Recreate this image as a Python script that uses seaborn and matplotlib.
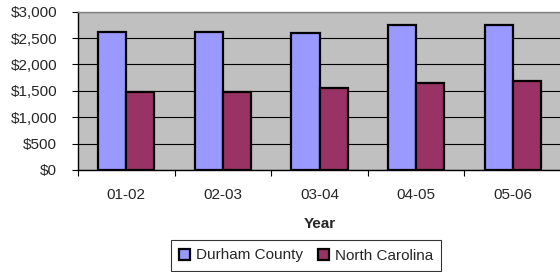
import matplotlib
matplotlib.use("Agg")
import matplotlib.pyplot as plt
import seaborn as sns
import pandas as pd
from matplotlib.ticker import FuncFormatter, FixedLocator
from matplotlib.patches import Patch

years = ["01-02", "02-03", "03-04", "04-05", "05-06"]
durham = [2610, 2610, 2605, 2748, 2748]
nc = [1472, 1472, 1548, 1643, 1693]
series = ["Durham County", "North Carolina"]
colors = ["#9999FF", "#993366"]

df = pd.DataFrame({
    "Year": years * 2,
    "Value": durham + nc,
    "Series": [series[0]] * len(years) + [series[1]] * len(years),
})

sns.set_style("white")
plt.rcParams["font.family"] = ["Liberation Sans", "DejaVu Sans"]

fig = plt.figure(figsize=(5.6, 2.72), dpi=100)
ax = fig.add_axes([78 / 560, 102 / 272, 483 / 560, 158.3 / 272])
ax.set_facecolor("#C0C0C0")

sns.barplot(data=df, x="Year", y="Value", hue="Series", palette=colors,
            saturation=1, width=0.58, edgecolor="black", linewidth=1.6,
            ax=ax, legend=False, zorder=3)

ax.set_ylim(0, 3000)
ax.set_xlim(-0.5, len(years) - 0.5)
ax.set_yticks(range(0, 3001, 500))
ax.yaxis.set_major_formatter(FuncFormatter(lambda v, p: f"${int(v):,}"))
ax.grid(axis="y", color="black", linewidth=0.8, zorder=1)
ax.set_axisbelow(True)

ax.tick_params(axis="y", which="major", length=4, width=0.8, color="black",
               direction="out", labelsize=11, pad=11, left=True)
ax.tick_params(axis="x", which="major", length=0, labelsize=11, pad=13)
ax.xaxis.set_minor_locator(FixedLocator([i - 0.5 for i in range(len(years))]))
ax.tick_params(axis="x", which="minor", length=4, width=0.8, color="black",
               direction="out", bottom=True)

for s in ["left", "bottom"]:
    ax.spines[s].set_color("black")
    ax.spines[s].set_linewidth(1.0)
ax.spines["top"].set_color("#808080")
ax.spines["top"].set_linewidth(1.0)
ax.spines["right"].set_visible(False)

ax.set_ylabel("")
ax.set_xlabel("Year", fontsize=11, fontweight="bold", labelpad=11)

handles = [Patch(facecolor=c, edgecolor="black", linewidth=1.6) for c in colors]
leg = fig.legend(handles, series, loc="center", bbox_to_anchor=(306 / 560, 1 - 255.5 / 272),
                 ncol=2, frameon=True, fancybox=False, fontsize=11,
                 handlelength=0.7, handleheight=0.7, handletextpad=0.4,
                 columnspacing=1.0, borderpad=0.55, borderaxespad=0)
leg.get_frame().set_edgecolor("black")
leg.get_frame().set_linewidth(0.8)

fig.savefig("out.png", dpi=100)
